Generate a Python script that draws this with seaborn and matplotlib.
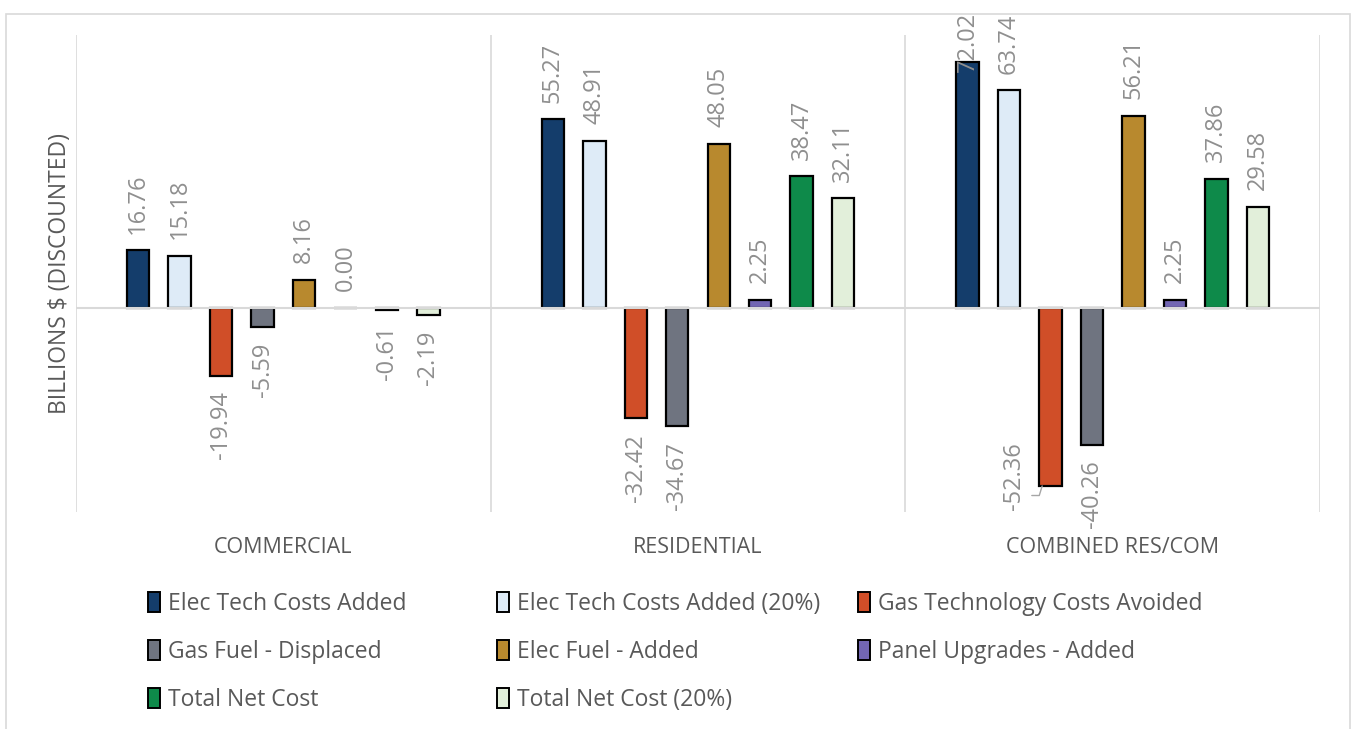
import matplotlib
matplotlib.use("Agg")
import matplotlib.pyplot as plt
import seaborn as sns
import pandas as pd
from matplotlib.patches import Rectangle, Patch

categories = ["COMMERCIAL", "RESIDENTIAL", "COMBINED RES/COM"]
series = ["Elec Tech Costs Added", "Elec Tech Costs Added (20%)", "Gas Technology Costs Avoided",
          "Gas Fuel - Displaced", "Elec Fuel - Added", "Panel Upgrades - Added",
          "Total Net Cost", "Total Net Cost (20%)"]
commercial = [16.76, 15.18, -19.94, -5.59, 8.16, 0.00, -0.61, -2.19]
residential = [55.27, 48.91, -32.42, -34.67, 48.05, 2.25, 38.47, 32.11]
combined = [72.02, 63.74, -52.36, -40.26, 56.21, 2.25, 37.86, 29.58]
colors = ["#143d6b", "#deebf7", "#d04e28", "#6f7480", "#b8892e", "#7266b3", "#0e8a4a", "#e2efda"]
y_label = "BILLIONS $ (DISCOUNTED)"

rows = []
for cat, vals in zip(categories, [commercial, residential, combined]):
    for s, v in zip(series, vals):
        rows.append({"category": cat, "series": s, "value": v})
df = pd.DataFrame(rows)

sns.set_theme(style="white")
plt.rcParams["font.family"] = ["Open Sans", "DejaVu Sans"]

W, H = 1352, 729
fig = plt.figure(figsize=(W / 100, H / 100), dpi=100)
ax = fig.add_axes([76 / W, 1 - 512 / H, (1320 - 76) / W, (512 - 35) / H])

sns.barplot(data=df, x="category", y="value", hue="series", order=categories, hue_order=series,
            palette=colors, saturation=1, gap=0.46, edgecolor="black", linewidth=1.6, ax=ax,
            legend=False, errorbar=None, zorder=3)

ax.set_ylim(-60, 80)
ax.set_xlim(-0.5, 2.5)
for s in ax.spines.values():
    s.set_visible(False)
ax.axhline(0, color="#d9d9d9", lw=1.5, zorder=4)
for xv in [-0.5, 0.5, 1.5, 2.5]:
    ax.axvline(xv, color="#d9d9d9", lw=1.2, zorder=1)
ax.set_yticks([])
ax.set_xlabel("")
ax.set_ylabel(y_label, fontsize=16.5, color="#595959")
ax.yaxis.set_label_coords(-0.003, 0.5)
ax.tick_params(axis="x", length=0, pad=18, labelsize=15.5, labelcolor="#595959")

# data labels
label_color = "#8f8f8f"
fs = 17
for bars in ax.containers:
    for rect in bars:
        v = rect.get_height()
        x = rect.get_x() + rect.get_width() / 2
        txt = f"{v:.2f}"
        if v >= 0:
            y = min(v, 64.2)
            ax.annotate(txt, (x, y), xytext=(0, 12), textcoords="offset points", rotation=90,
                        ha="center", va="bottom", fontsize=fs, color=label_color,
                        annotation_clip=False, zorder=6)
        elif v < -45:
            ax.annotate(txt, (x - 0.089, -39.4), rotation=90, ha="center", va="top",
                        fontsize=fs, color=label_color, annotation_clip=False, zorder=6)
            ax.plot([x - 0.02, x - 0.027, x - 0.045], [v, v - 2.8, v - 2.8], color="#a6a6a6",
                    lw=1, zorder=6, clip_on=False)
        else:
            ax.annotate(txt, (x, v), xytext=(0, -11.5), textcoords="offset points", rotation=90,
                        ha="center", va="top", fontsize=fs, color=label_color,
                        annotation_clip=False, zorder=6)

# legend in three columns
handles = [Patch(facecolor=c, edgecolor="black", linewidth=1.4) for c in colors]
col_x = [148 / W, 497 / W, 858 / W]
for ci in range(3):
    idx = [i for i in range(len(series)) if i % 3 == ci]
    fig.legend([handles[i] for i in idx], [series[i] for i in idx], loc="upper left",
               bbox_to_anchor=(col_x[ci], 1 - 592 / H), frameon=False, fontsize=16.5,
               labelcolor="#595959", handlelength=0.52, handleheight=0.95, handletextpad=0.35,
               labelspacing=1.05, borderaxespad=0, borderpad=0)

fig.patches.append(Rectangle((6 / W, -0.01), (1350 - 6) / W, 1 - 14 / H + 0.01,
                             transform=fig.transFigure, fill=False, edgecolor="#d9d9d9", lw=1.2))

fig.savefig("out.png", dpi=100)
